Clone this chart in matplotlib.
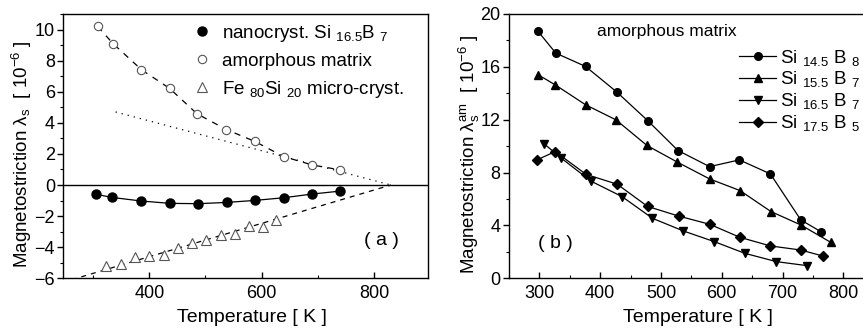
import matplotlib
matplotlib.use("Agg")
import matplotlib.pyplot as plt
from matplotlib.lines import Line2D
from matplotlib.ticker import MultipleLocator

plt.rcParams['font.family'] = ['Liberation Sans', 'DejaVu Sans']
plt.rcParams['mathtext.default'] = 'regular'

# ---------------- panel (a) data ----------------
T_nano = [306, 334, 386, 437, 487, 538, 588, 639, 690, 740]
lam_nano = [-0.60, -0.80, -1.03, -1.18, -1.20, -1.12, -0.99, -0.82, -0.58, -0.39]
T_amor = [308, 336, 386, 436, 485, 537, 588, 639, 690, 740]
lam_amor = [10.2, 9.08, 7.42, 6.22, 4.58, 3.57, 2.80, 1.83, 1.29, 0.97]
T_fe = [323, 349, 375, 400, 426, 451, 476, 501, 527, 553, 577, 602, 626]
lam_fe = [-5.20, -5.10, -4.62, -4.56, -4.52, -4.04, -3.70, -3.55, -3.20, -3.12, -2.62, -2.71, -2.26]
T_fe_fit = [262, 830]
lam_fe_fit = [-6.09, 0.0]
T_dot_fit = [340, 830]
lam_dot_fit = [4.7, 0.0]
labels_a = ["nanocryst. Si $_{16.5}$B $_{7}$", "amorphous matrix",
            "Fe $_{80}$Si $_{20}$ micro-cryst."]

# ---------------- panel (b) data ----------------
T_b1 = [297, 327, 376, 427, 478, 528, 580, 629, 680, 730, 763]
lam_b1 = [18.73, 17.04, 16.03, 14.11, 11.94, 9.67, 8.45, 8.96, 7.90, 4.42, 3.53]
T_b2 = [298, 326, 376, 426, 477, 527, 580, 630, 681, 730, 779]
lam_b2 = [15.4, 14.64, 13.13, 11.99, 10.05, 8.79, 7.52, 6.64, 5.05, 4.04, 2.73]
T_b3 = [308, 336, 385, 436, 486, 537, 588, 638, 690, 740]
lam_b3 = [10.17, 9.09, 7.35, 6.18, 4.54, 3.58, 2.77, 1.89, 1.26, 0.96]
T_b4 = [296, 326, 377, 428, 478, 529, 580, 630, 680, 730, 766]
lam_b4 = [8.96, 9.59, 7.86, 7.12, 5.44, 4.71, 4.09, 3.10, 2.45, 2.14, 1.69]
labels_b = ["Si $_{14.5}$ B $_{8}$", "Si $_{15.5}$ B $_{7}$",
            "Si $_{16.5}$ B $_{7}$", "Si $_{17.5}$ B $_{5}$"]

W, H = 863, 334
fig = plt.figure(figsize=(W / 100, H / 100), dpi=100)
axw, axh = 364.7 / W, 264.3 / H
ax1 = fig.add_axes([63.3 / W, 55.7 / H, axw, axh])
ax2 = fig.add_axes([509.0 / W, 55.7 / H, axw, axh])

lw = 0.9
# ---- panel (a)
ax1.axhline(0, color='black', lw=1.0, zorder=1)
ax1.plot(T_fe_fit, lam_fe_fit, ls=(0, (4, 4)), color='black', lw=lw)
ax1.plot(T_dot_fit, lam_dot_fit, ls=(0, (1, 4)), color='black', lw=lw)
ax1.plot(T_amor, lam_amor, ls=(0, (5, 5)), color='black', lw=lw)
ax1.plot(T_nano, lam_nano, ls='-', color='black', lw=lw, marker='o', ms=6.5,
         mfc='black', mec='black', zorder=3)
ax1.plot(T_amor, lam_amor, ls='none', marker='o', ms=6, mfc='white',
         mec='#555555', mew=0.8, zorder=3)
ax1.plot(T_fe, lam_fe, ls='none', marker='^', ms=6.5, mfc='white',
         mec='#555555', mew=0.8, zorder=3)

ax1.set_xlim(247, 896)
ax1.set_ylim(-6, 11)
ax1.xaxis.set_major_locator(MultipleLocator(200))
ax1.xaxis.set_minor_locator(MultipleLocator(100))
ax1.yaxis.set_major_locator(MultipleLocator(2))
ax1.yaxis.set_minor_locator(MultipleLocator(1))
ax1.text(813, -3.55, "( a )", fontsize=14, ha='center', va='center')

ha = [Line2D([], [], ls='none', marker='o', ms=6.5, mfc='black', mec='black'),
      Line2D([], [], ls='none', marker='o', ms=6, mfc='white', mec='#555555', mew=0.8),
      Line2D([], [], ls='none', marker='^', ms=6.5, mfc='white', mec='#555555', mew=0.8)]
ax1.legend(ha, labels_a, loc='upper left', bbox_to_anchor=(0.355, 0.967),
           frameon=False, fontsize=13.5, handlelength=1.0, handletextpad=0.55,
           labelspacing=0.48, borderpad=0, borderaxespad=0)

ax1.set_xlabel("Temperature [ K ]", fontsize=14)
ax1.set_ylabel("Magnetostriction λ$_{s}$  [ 10$^{-6}$ ]", fontsize=13.5)

# ---- panel (b)
ax2.plot(T_b1, lam_b1, '-o', color='black', lw=lw, ms=5.5)
ax2.plot(T_b2, lam_b2, '-^', color='black', lw=lw, ms=6)
ax2.plot(T_b3, lam_b3, '-v', color='black', lw=lw, ms=6)
ax2.plot(T_b4, lam_b4, '-D', color='black', lw=lw, ms=5)
ax2.set_xlim(250, 850)
ax2.set_ylim(0, 20)
ax2.xaxis.set_major_locator(MultipleLocator(100))
ax2.xaxis.set_minor_locator(MultipleLocator(50))
ax2.yaxis.set_major_locator(MultipleLocator(4))
ax2.yaxis.set_minor_locator(MultipleLocator(2))
ax2.text(510, 18.7, "amorphous matrix", fontsize=12.5, ha='center', va='center')
ax2.text(327, 2.65, "( b )", fontsize=14, ha='center', va='center')
ax2.legend(labels_b, loc='upper left', bbox_to_anchor=(0.63, 0.873),
           frameon=False, fontsize=13.5, handlelength=2.0, handletextpad=0.2,
           labelspacing=0.1, borderpad=0, borderaxespad=0)
ax2.set_xlabel("Temperature [ K ]", fontsize=14)
ax2.set_ylabel("Magnetostriction λ$_{s}^{am}$  [ 10$^{-6}$ ]", fontsize=13.5)

for ax in (ax1, ax2):
    for s in ax.spines.values():
        s.set_linewidth(1.0)
    ax.tick_params(axis='x', which='both', direction='in', top=False,
                   labelsize=13, pad=5)
    ax.tick_params(axis='y', which='both', direction='out', right=False,
                   labelsize=13, pad=1.5)
    ax.tick_params(which='major', length=4.5, width=1.0)
    ax.tick_params(which='minor', length=2.5, width=0.8)
    ax.xaxis.set_label_coords(0.517, -0.115)

ax1.yaxis.set_label_coords(-0.081, 0.47)
ax2.yaxis.set_label_coords(-0.073, 0.47)

fig.savefig("out.png", dpi=100)
